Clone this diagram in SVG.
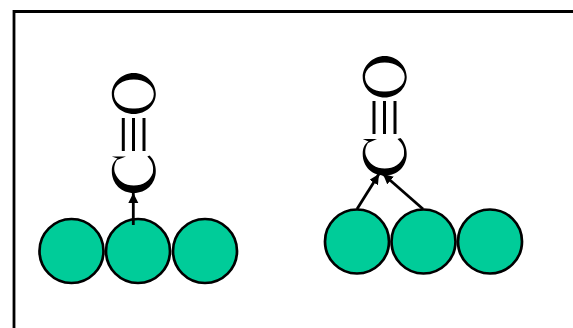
<svg xmlns="http://www.w3.org/2000/svg" width="573" height="328" viewBox="0 0 573 328">
<defs>
<marker id="ah" markerUnits="userSpaceOnUse" markerWidth="12" markerHeight="12" refX="10" refY="5" orient="auto"><path d="M0 0L10 5L0 10Z" fill="#000"/></marker>
</defs>
<style>
.bead{fill:#00cc99;stroke:#000;stroke-width:2.7}
.ink{fill:#000;fill-rule:evenodd;stroke:none}
.bond{stroke:#000;stroke-width:3;fill:none}
.arrow{stroke:#000;stroke-width:2.8;fill:none;marker-end:url(#ah)}
</style>
<rect width="573" height="328" fill="#fff"/>
<path id="frame" d="M14 328V11.500H573" fill="none" stroke="#000" stroke-width="2.8"/>
<g id="left-top"><path class="ink" d="M133.800 73C146 73 155.800 83 155.800 94C155.800 105 146 114 133.800 114C121.500 114 111.800 105 111.800 94C111.800 83 121.500 73 133.800 73ZM133.800 79.500C123 79.500 114 85 114 94C114 103 123 109 133.800 108.500C144.500 109 153.800 103 153.800 94C153.800 85 144.500 79.500 133.800 79.500Z"/></g>
<g id="left-bottom"><path class="ink" d="M111.800 156.500L126 156.500L117 160C114.500 164 113.500 168 115 173C118 181 125 185.500 133.800 185.500C143 185.500 150 181 152.800 173C154 166 152 161 147.300 156.500L149.500 155.500C153.500 159 155.800 165 155.800 171C155.800 184 146 193 133.800 193C121.500 193 111.800 184 111.800 171C111.800 165 114 161 117.500 158.500Z"/></g>
<g id="right-top"><path class="ink" d="M384.700 56C397 56 406.700 66 406.700 77C406.700 88 397 97.500 384.700 97.500C372.500 97.500 362.700 88 362.700 77C362.700 66 372.500 56 384.700 56ZM384.700 62.500C374 62.500 365 68 365 77C365 86 374 92 384.700 91.500C395 92 404.700 86 404.700 77C404.700 68 395 62.500 384.700 62.500Z"/></g>
<g id="right-bottom"><path class="ink" d="M362.700 139L377 139L368 143C365.500 147 364.500 151 366 156C369 164 376 168.500 384.700 168.500C394 168.500 401 164 403.800 156C405 149 403 144 397.500 139L400.500 138C404.500 142 406.700 148 406.700 154C406.700 167 397 175.500 384.700 175.500C372.500 175.500 362.700 167 362.700 154C362.700 148 364.500 144 368.500 141.500Z"/></g>
<g id="bead-1"><circle class="bead" cx="71.500" cy="251" r="32"/></g>
<g id="bead-2"><circle class="bead" cx="138" cy="251" r="32"/></g>
<g id="bead-3"><circle class="bead" cx="205" cy="251" r="32"/></g>
<g id="bead-4"><circle class="bead" cx="357" cy="241.500" r="32"/></g>
<g id="bead-5"><circle class="bead" cx="423.500" cy="241.500" r="32"/></g>
<g id="bead-6"><circle class="bead" cx="490" cy="241.500" r="32"/></g>
<g id="connectors">
<path class="bond" d="M123.300 118V151M133.500 118V151M144 118V151"/>
<path class="bond" d="M374 101V134M384.500 101V134M395 101V134"/>
<path class="arrow" d="M133.300 225V193"/>
<path class="arrow" d="M357 209L379 174"/>
<path class="arrow" d="M423 209L383 174"/>
</g>
</svg>
